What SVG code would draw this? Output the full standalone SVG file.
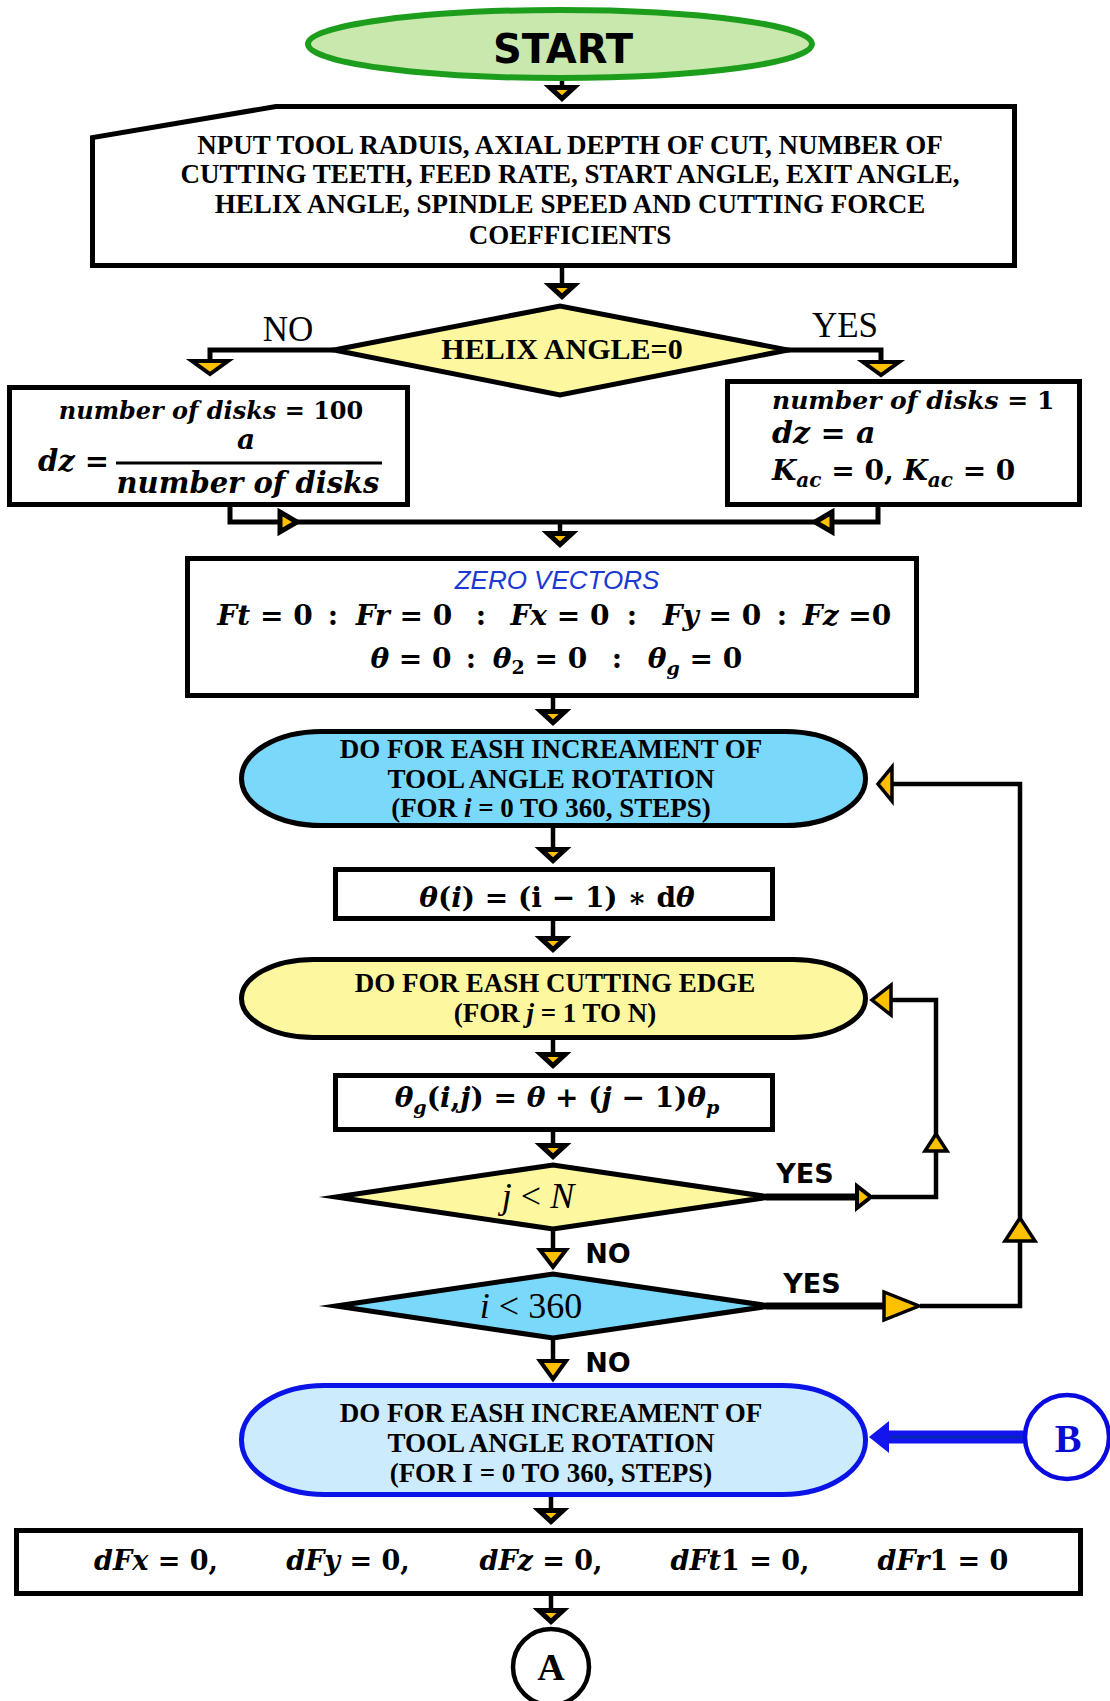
<svg xmlns="http://www.w3.org/2000/svg" xmlns:xlink="http://www.w3.org/1999/xlink" width="1110" height="1701" viewBox="0 0 1110 1701">
  <style>
    .t { font-family: "Liberation Serif", "Times New Roman", serif; font-weight: bold; }
    .tr { font-family: "Liberation Serif", "Times New Roman", serif; font-weight: normal; }
    .s { font-family: "DejaVu Sans", sans-serif; font-weight: bold; }
    .m { font-family: "DejaVu Serif", serif; font-weight: bold; }
    .i { font-style: italic; }
    .box { fill: #fff; stroke: #000; stroke-width: 5; stroke-linejoin: miter; }
    .dia { stroke: #000; stroke-width: 5; stroke-linejoin: miter; stroke-miterlimit: 10; }
    .yel { fill: #fdf8a0; }
    .sky { fill: #7ad8fa; }
    .c { fill: none; stroke: #000; stroke-width: 4.5; stroke-linejoin: miter; }
    .thick { stroke-width: 7; }
    .ah { fill: #ffc000; stroke: #000; stroke-linejoin: miter; stroke-miterlimit: 10; stroke-width: 3.5; }
    .heavy { stroke-width: 5; }
  </style>
  <defs>
    <!-- downward arrowhead, tip at origin -->
    <polygon id="ahd" class="ah heavy" points="-12,-14.5 12,-14.5 0,-3.5"/>
  </defs>

  <!-- connectors -->
  <g id="connectors">
    <line class="c" x1="562" y1="79" x2="562" y2="90"/>
    <use xlink:href="#ahd" x="562" y="102"/>

    <line class="c" x1="562" y1="268" x2="562" y2="287"/>
    <use xlink:href="#ahd" x="562" y="300"/>

    <!-- helix angle branches -->
    <polyline class="c" style="stroke-width:5" points="334,350 210,350 210,362"/>
    <polygon class="ah" style="stroke-width:4" points="192,361 228,361 210,374"/>
    <polyline class="c" style="stroke-width:5" points="786,350 881,350 881,362"/>
    <polygon class="ah" style="stroke-width:4" points="863,362 899,362 881,375"/>

    <!-- merge below the two branches -->
    <polyline class="c" style="stroke-width:5" points="230,506 230,522 878,522 878,506"/>
    <polygon class="ah heavy" points="280,512 280,532 297,522"/>
    <polygon class="ah heavy" points="832,512 832,532 815,522"/>
    <line class="c" x1="560" y1="522" x2="560" y2="533"/>
    <use xlink:href="#ahd" x="560" y="548"/>

    <line class="c" x1="553" y1="698" x2="553" y2="711"/>
    <use xlink:href="#ahd" x="553" y="726"/>

    <line class="c" x1="553" y1="828" x2="553" y2="850"/>
    <use xlink:href="#ahd" x="553" y="864"/>

    <line class="c" x1="553" y1="921" x2="553" y2="938"/>
    <use xlink:href="#ahd" x="553" y="953"/>

    <line class="c" x1="553" y1="1040" x2="553" y2="1055"/>
    <use xlink:href="#ahd" x="553" y="1069"/>

    <line class="c" x1="553" y1="1132" x2="553" y2="1146"/>
    <use xlink:href="#ahd" x="553" y="1160"/>

    <!-- j < N : YES loops back to the cutting-edge loop -->
    <line class="c thick" x1="766" y1="1197" x2="858" y2="1197"/>
    <polyline class="c" points="872,1197 936,1197 936,1000 892,1000"/>
    <polygon class="ah" style="stroke-width:4" points="857,1186 857,1208 871,1197"/>
    <polygon class="ah" points="925,1151 947,1151 936,1134"/>
    <polygon class="ah" points="891,985 891,1015 872,1000"/>

    <!-- j < N : NO -->
    <line class="c" x1="553" y1="1231" x2="553" y2="1250"/>
    <polygon class="ah" style="stroke-width:4" points="540,1250 566,1250 553,1267"/>

    <!-- i < 360 : YES loops back to the angle loop -->
    <line class="c thick" x1="766" y1="1306" x2="886" y2="1306"/>
    <polyline class="c" points="920,1306 1020,1306 1020,784 892,784"/>
    <polygon class="ah" points="884,1292 884,1320 919,1306"/>
    <polygon class="ah" points="1005,1241 1035,1241 1020,1218"/>
    <polygon class="ah" points="892,767 892,801 878,784"/>

    <!-- i < 360 : NO -->
    <line class="c" x1="553" y1="1340" x2="553" y2="1361"/>
    <polygon class="ah" style="stroke-width:4" points="540,1361 566,1361 553,1379"/>

    <!-- connector B into the force loop -->
    <line x1="1024" y1="1437" x2="884" y2="1437" stroke="#1414ee" stroke-width="13"/>
    <line x1="1022" y1="1437" x2="890" y2="1437" stroke="#0626b8" stroke-width="3"/>
    <polygon points="889,1421 889,1453 869,1437" fill="#1414ee"/>

    <line class="c" x1="551" y1="1496" x2="551" y2="1511"/>
    <use xlink:href="#ahd" x="551" y="1525"/>

    <line class="c" x1="551" y1="1596" x2="551" y2="1611"/>
    <use xlink:href="#ahd" x="551" y="1625"/>
  </g>

  <!-- start -->
  <g id="start">
    <ellipse cx="560" cy="44" rx="252" ry="34" fill="#c9e8ad" stroke="#1c9e1c" stroke-width="6"/>
    <text class="s" x="563" y="63" font-size="40" text-anchor="middle">START</text>
  </g>

  <!-- input data -->
  <g id="input">
    <polygon class="box" points="92.5,265.5 92.5,137.5 276,106.5 1014.5,106.5 1014.5,265.5"/>
    <g class="t" font-size="27" text-anchor="middle">
      <text x="570" y="154">NPUT TOOL RADUIS, AXIAL DEPTH OF CUT, NUMBER OF</text>
      <text x="570" y="183">CUTTING TEETH, FEED RATE, START ANGLE, EXIT ANGLE,</text>
      <text x="570" y="213">HELIX ANGLE, SPINDLE SPEED AND CUTTING FORCE</text>
      <text x="570" y="244">COEFFICIENTS</text>
    </g>
  </g>

  <!-- helix angle decision -->
  <g id="helix">
    <polygon class="dia yel" points="334,350 560,306 788,350 560,395"/>
    <text class="t" x="562" y="359" font-size="30" text-anchor="middle">HELIX ANGLE=0</text>
    <text class="tr" x="288" y="341" font-size="35" text-anchor="middle">NO</text>
    <text class="tr" x="845" y="337" font-size="35" text-anchor="middle">YES</text>
  </g>

  <!-- helical tool: many disks -->
  <g id="disks-many">
    <rect class="box" x="9.5" y="387.5" width="398" height="117"/>
    <text class="m" x="211" y="419" font-size="24" text-anchor="middle"><tspan class="i">number of disks</tspan> = 100</text>
    <text class="m i" x="246" y="449" font-size="28" text-anchor="middle">a</text>
    <line x1="116" y1="463" x2="382" y2="463" stroke="#000" stroke-width="3"/>
    <text class="m" x="38" y="471" font-size="29"><tspan class="i">dz</tspan> =</text>
    <text class="m i" x="248" y="493" font-size="29" text-anchor="middle">number of disks</text>
  </g>

  <!-- straight tool: one disk -->
  <g id="disks-one">
    <rect class="box" x="727.5" y="381.5" width="352" height="123"/>
    <text class="m" x="772" y="409" font-size="25"><tspan class="i">number of disks</tspan> = 1</text>
    <text class="m" x="772" y="443" font-size="30"><tspan class="i">dz</tspan> = <tspan class="i">a</tspan></text>
    <text class="m" x="772" y="480" font-size="28"><tspan class="i">K</tspan><tspan class="i" font-size="20" dy="7">ac</tspan><tspan dy="-7"> = 0, </tspan><tspan class="i">K</tspan><tspan class="i" font-size="20" dy="7">ac</tspan><tspan dy="-7"> = 0</tspan></text>
  </g>

  <!-- zero vectors -->
  <g id="zero">
    <rect class="box" x="187.5" y="558.5" width="729" height="137"/>
    <text x="557" y="589" font-family="Liberation Sans, Arial, sans-serif" font-style="italic" font-size="26" fill="#1a38d2" text-anchor="middle">ZERO VECTORS</text>
    <g class="m" font-size="28" text-anchor="middle">
      <text x="265" y="625"><tspan class="i">Ft</tspan> = 0</text>
      <text x="333" y="625">:</text>
      <text x="404" y="625"><tspan class="i">Fr</tspan> = 0</text>
      <text x="481" y="625">:</text>
      <text x="560" y="625"><tspan class="i">Fx</tspan> = 0</text>
      <text x="632" y="625">:</text>
      <text x="712" y="625"><tspan class="i">Fy</tspan> = 0</text>
      <text x="782" y="625">:</text>
      <text x="847" y="625"><tspan class="i">Fz</tspan> =0</text>
      <text x="411" y="668"><tspan class="i">θ</tspan> = 0</text>
      <text x="471" y="668">:</text>
      <text x="540" y="668"><tspan class="i">θ</tspan><tspan font-size="19" dy="6">2</tspan><tspan dy="-6"> = 0</tspan></text>
      <text x="617" y="668">:</text>
      <text x="695" y="668"><tspan class="i">θ</tspan><tspan class="i" font-size="19" dy="7">g</tspan><tspan dy="-7"> = 0</tspan></text>
    </g>
  </g>

  <!-- loop over tool angle -->
  <g id="loop-angle">
    <rect class="box sky" x="241.5" y="731.5" width="624" height="94" rx="80" ry="47"/>
    <g class="t" font-size="27" text-anchor="middle">
      <text x="551" y="758">DO FOR EASH INCREAMENT OF</text>
      <text x="551" y="788">TOOL ANGLE ROTATION</text>
      <text x="551" y="817">(FOR <tspan class="i">i</tspan> = 0 TO 360, STEPS)</text>
    </g>
  </g>

  <!-- rotation angle -->
  <g id="theta">
    <rect class="box" x="335.5" y="869.5" width="437" height="49"/>
    <text class="m" x="557" y="907" font-size="28" text-anchor="middle"><tspan class="i">θ</tspan>(<tspan class="i">i</tspan>) = (i − 1) ∗ d<tspan class="i">θ</tspan></text>
  </g>

  <!-- loop over cutting edges -->
  <g id="loop-edge">
    <rect class="box yel" x="241.5" y="959.5" width="624" height="78" rx="72" ry="39"/>
    <g class="t" font-size="27" text-anchor="middle">
      <text x="555" y="992">DO FOR EASH CUTTING EDGE</text>
      <text x="555" y="1022">(FOR <tspan class="i">j</tspan> = 1 TO N)</text>
    </g>
  </g>

  <!-- edge angle -->
  <g id="theta-g">
    <rect class="box" x="335.5" y="1075.5" width="437" height="54"/>
    <text class="m" x="557" y="1107" font-size="28" text-anchor="middle"><tspan class="i">θ</tspan><tspan class="i" font-size="19" dy="7">g</tspan><tspan dy="-7">(</tspan><tspan class="i">i</tspan>,<tspan class="i">j</tspan>) = <tspan class="i">θ</tspan> + (<tspan class="i">j</tspan> − 1)<tspan class="i">θ</tspan><tspan class="i" font-size="19" dy="7">p</tspan></text>
  </g>

  <!-- edge counter check -->
  <g id="check-j">
    <polygon class="dia yel" points="336,1197 553,1165 770,1197 553,1229"/>
    <text class="tr" x="538" y="1208" font-size="36" text-anchor="middle"><tspan class="i">j</tspan> &lt; <tspan class="i">N</tspan></text>
    <text class="s" x="805" y="1183" font-size="27" text-anchor="middle">YES</text>
    <text class="s" x="608" y="1263" font-size="27" text-anchor="middle">NO</text>
  </g>

  <!-- angle counter check -->
  <g id="check-i">
    <polygon class="dia sky" points="336,1306 553,1274 770,1306 553,1338"/>
    <text class="tr" x="531" y="1318" font-size="36" text-anchor="middle"><tspan class="i">i</tspan> &lt; 360</text>
    <text class="s" x="812" y="1293" font-size="27" text-anchor="middle">YES</text>
    <text class="s" x="608" y="1372" font-size="27" text-anchor="middle">NO</text>
  </g>

  <!-- force loop -->
  <g id="loop-force">
    <rect x="241.5" y="1385.5" width="624" height="109" rx="83" ry="54" fill="#ccecfe" stroke="#0a14e6" stroke-width="5"/>
    <g class="t" font-size="27" text-anchor="middle">
      <text x="551" y="1422">DO FOR EASH INCREAMENT OF</text>
      <text x="551" y="1452">TOOL ANGLE ROTATION</text>
      <text x="551" y="1482">(FOR I = 0 TO 360, STEPS)</text>
    </g>
  </g>

  <!-- connector B -->
  <g id="conn-b">
    <circle cx="1067" cy="1437" r="42" fill="#fff" stroke="#0a0ae0" stroke-width="4.5"/>
    <text class="t" x="1068" y="1452" font-size="40" fill="#0a0ad0" text-anchor="middle">B</text>
  </g>

  <!-- force increments -->
  <g id="dforces">
    <rect class="box" x="16.5" y="1530.5" width="1064" height="63"/>
    <g class="m" font-size="27" text-anchor="middle">
      <text x="156" y="1570"><tspan class="i">dFx</tspan> = 0,</text>
      <text x="348" y="1570"><tspan class="i">dFy</tspan> = 0,</text>
      <text x="541" y="1570"><tspan class="i">dFz</tspan> = 0,</text>
      <text x="740" y="1570"><tspan class="i">dFt</tspan>1 = 0,</text>
      <text x="943" y="1570"><tspan class="i">dFr</tspan>1 = 0</text>
    </g>
  </g>

  <!-- connector A -->
  <g id="conn-a">
    <circle cx="551" cy="1667" r="38" fill="#fff" stroke="#000" stroke-width="4.5"/>
    <text class="t" x="551" y="1680" font-size="38" text-anchor="middle">A</text>
  </g>
</svg>
